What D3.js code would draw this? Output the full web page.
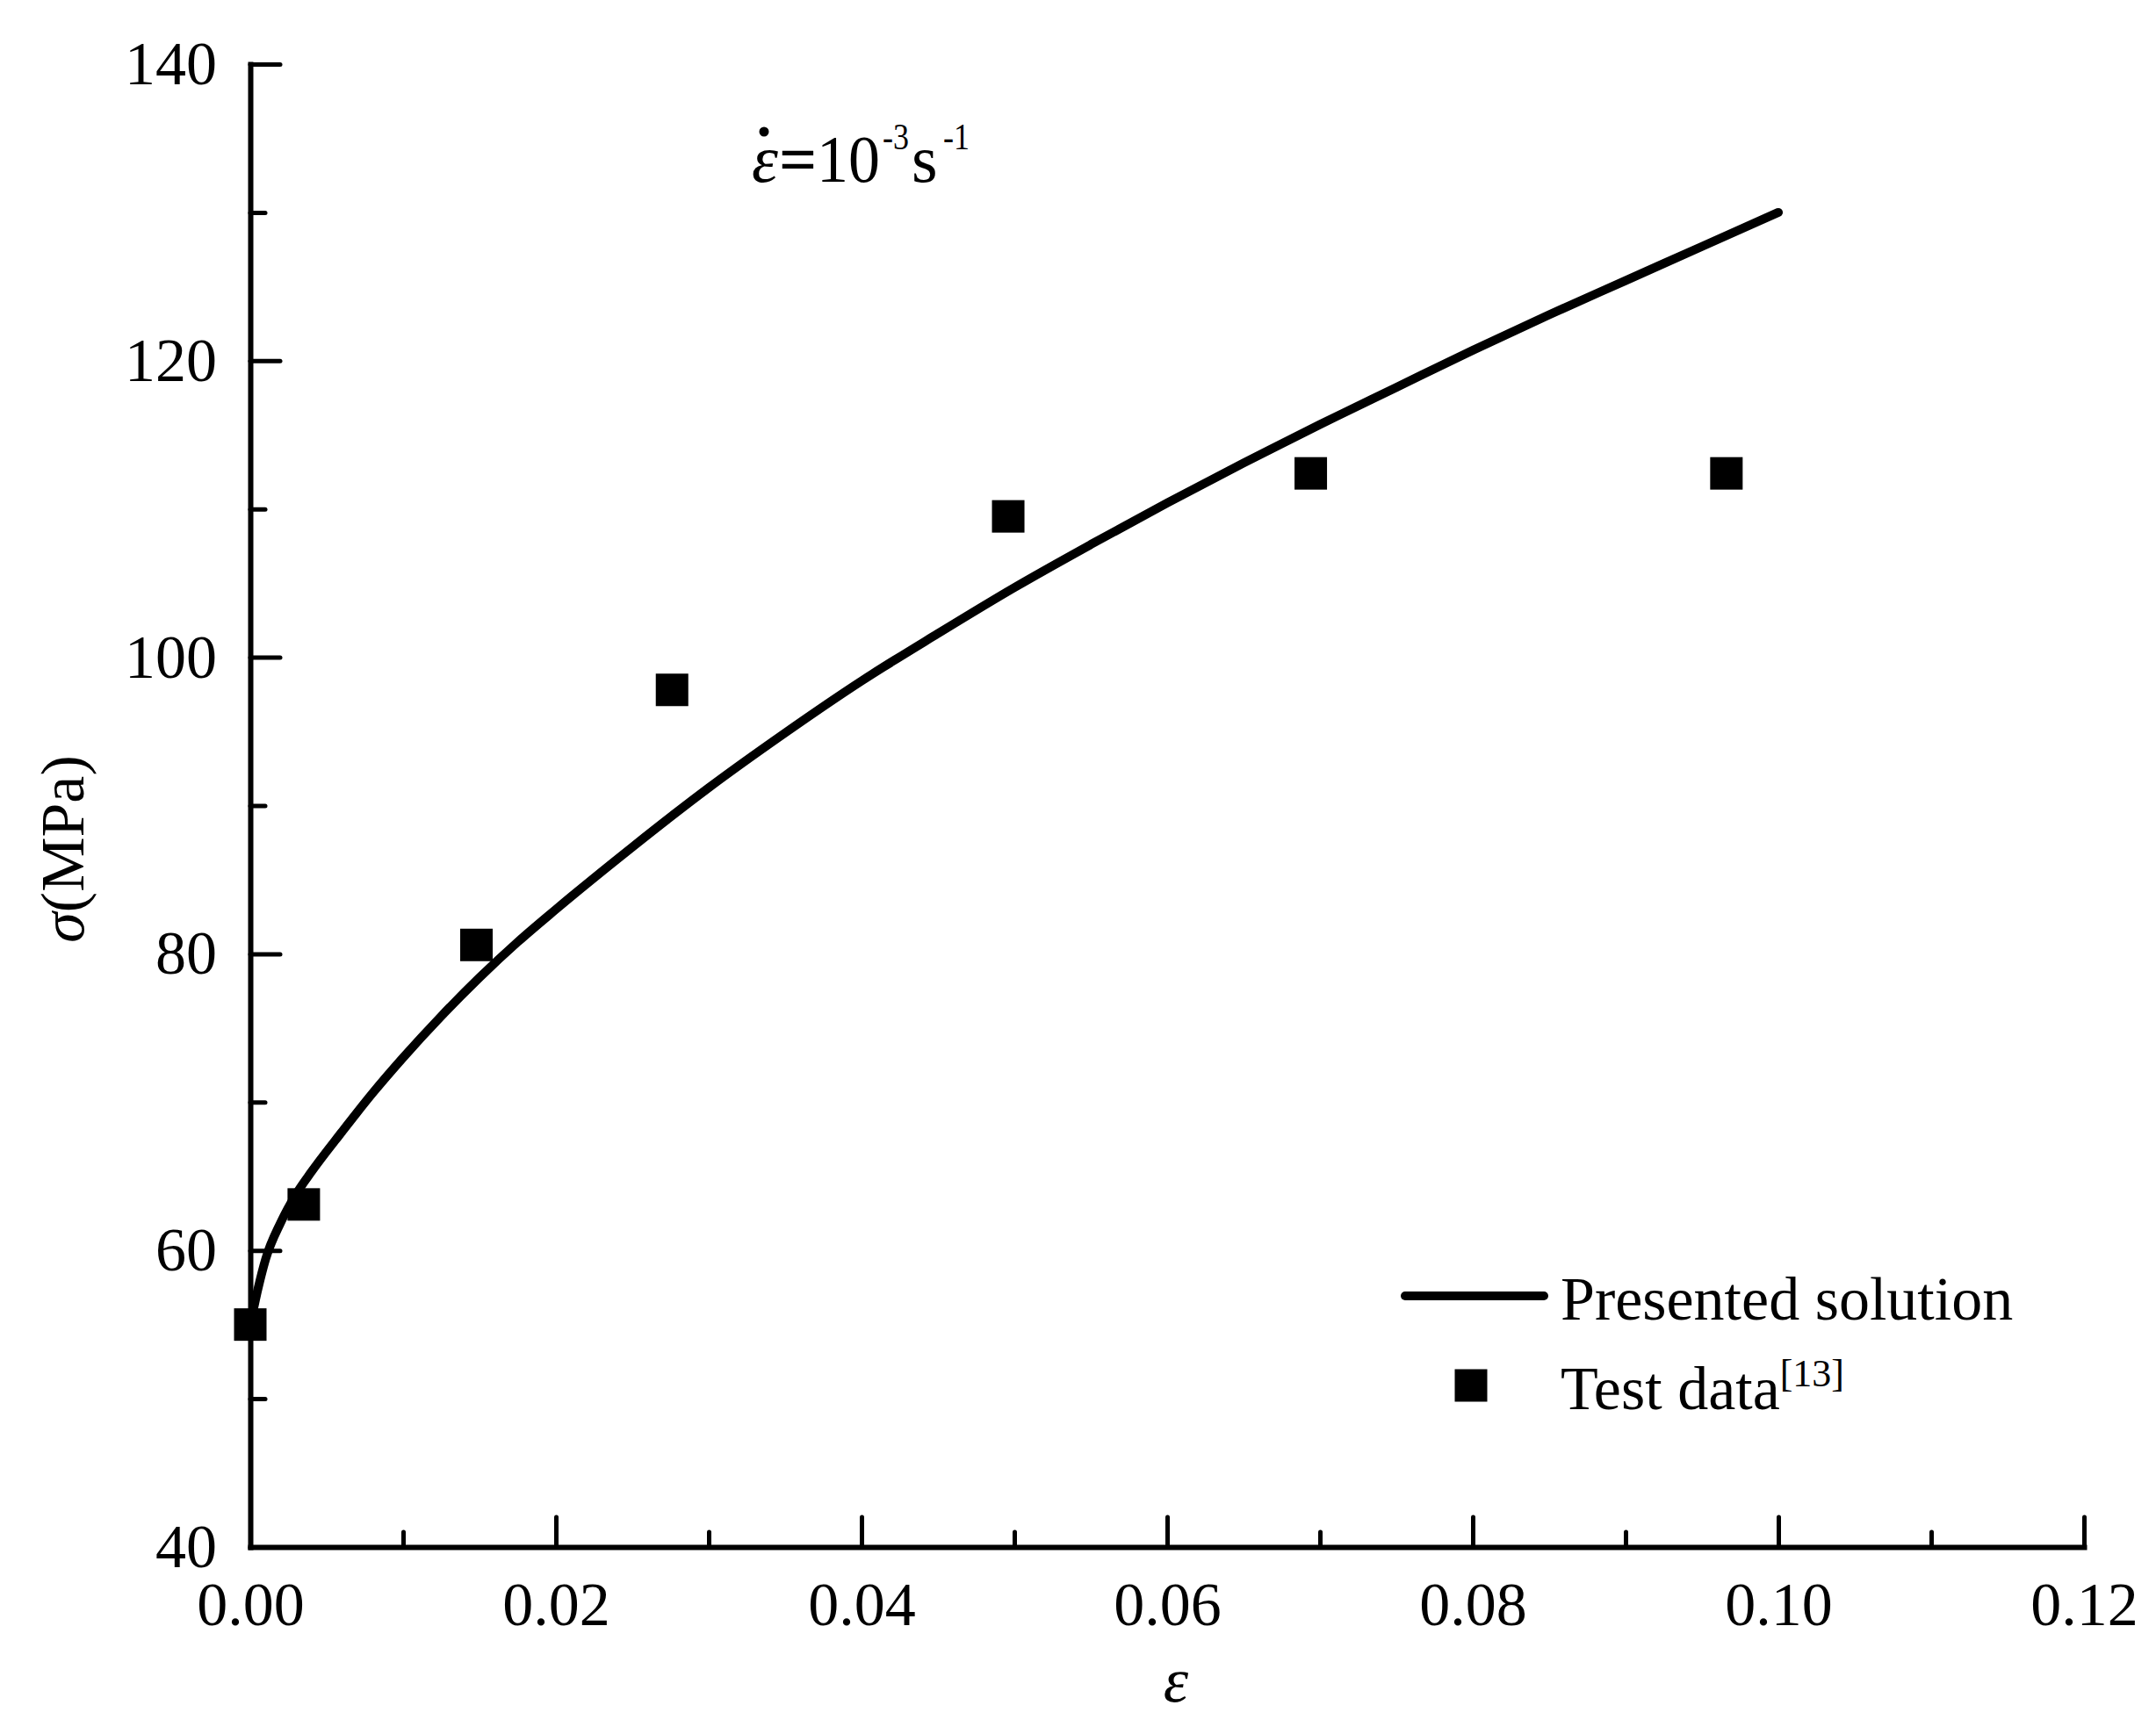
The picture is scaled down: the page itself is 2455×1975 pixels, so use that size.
<!DOCTYPE html>
<html>
<head>
<meta charset="utf-8">
<script src="https://cdn.jsdelivr.net/npm/d3@7"></script>
<style>
  html, body { margin: 0; padding: 0; background: #fff; }
  svg { display: block; }
  text { font-family: "Liberation Serif", "Times New Roman", serif; fill: #000; }
</style>
</head>
<body>
<svg id="chart" width="2455" height="1975"></svg>
<script>
// ---- data ----
const strainCurve = [0, 0.0005, 0.001, 0.002, 0.003, 0.004, 0.006, 0.008, 0.01, 0.0125, 0.015, 0.0175, 0.02, 0.025, 0.03, 0.035, 0.04, 0.045, 0.05, 0.055, 0.06, 0.065, 0.07, 0.075, 0.08, 0.085, 0.09, 0.095, 0.1];
const stressCurve = [55.0, 57.4, 59.4, 61.9, 63.8, 65.3, 68.0, 70.6, 73.0, 75.8, 78.4, 80.8, 83.0, 87.2, 91.2, 94.9, 98.4, 101.6, 104.7, 107.6, 110.4, 113.1, 115.7, 118.2, 120.7, 123.1, 125.4, 127.7, 130.0];
const strainTest = [0.0, 0.0035, 0.0148, 0.0276, 0.0496, 0.0694, 0.0966];
const stressTest = [55.0, 63.1, 80.6, 97.8, 109.5, 112.4, 112.4];
const xMajorTicks = [0, 0.02, 0.04, 0.06, 0.08, 0.10, 0.12];
const xMinorTicks = [0.01, 0.03, 0.05, 0.07, 0.09, 0.11];
const yMajorTicks = [40, 60, 80, 100, 120, 140];
const yMinorTicks = [50, 70, 90, 110, 130];
const legendLabels = ["Presented solution", "Test data"];

// ---- layout ----
const svg = d3.select("#chart");
svg.append("rect").attr("width", 2455).attr("height", 1975).attr("fill", "#fff");

const x = d3.scaleLinear().domain([0, 0.12]).range([285, 2373]);
const y = d3.scaleLinear().domain([40, 140]).range([1762, 73]);

const FS = 70;

function styleAxis(g) {
  g.selectAll("path.domain").attr("stroke", "#000").attr("stroke-width", 6).attr("stroke-linecap", "square");
  g.selectAll(".tick line").attr("stroke", "#000").attr("stroke-width", 5).attr("stroke-linecap", "round");
  g.selectAll(".tick text").attr("font-family", "Liberation Serif").attr("font-size", FS).attr("fill", "#000");
}

const gx = svg.append("g").attr("transform", `translate(0,${y(40)})`)
  .call(d3.axisBottom(x).tickValues(xMajorTicks).tickSizeInner(-34).tickSizeOuter(0)
    .tickPadding(39).tickFormat(d3.format(".2f")));
styleAxis(gx);

const gxm = svg.append("g").attr("transform", `translate(0,${y(40)})`)
  .call(d3.axisBottom(x).tickValues(xMinorTicks).tickSizeInner(-17).tickSizeOuter(0).tickFormat(""));
gxm.select("path.domain").remove();
styleAxis(gxm);

const gy = svg.append("g").attr("transform", `translate(${x(0)},0)`)
  .call(d3.axisLeft(y).tickValues(yMajorTicks).tickSizeInner(-34).tickSizeOuter(0)
    .tickPadding(38).tickFormat(d3.format("d")));
styleAxis(gy);

const gym = svg.append("g").attr("transform", `translate(${x(0)},0)`)
  .call(d3.axisLeft(y).tickValues(yMinorTicks).tickSizeInner(-17).tickSizeOuter(0).tickFormat(""));
gym.select("path.domain").remove();
styleAxis(gym);

// axis titles
svg.append("text")
  .attr("transform", "translate(95,967) rotate(-90)")
  .attr("text-anchor", "middle")
  .attr("font-size", FS)
  .call(t => {
    t.append("tspan").attr("font-style", "italic").text("σ");
    t.append("tspan").text("(MPa)");
  });

svg.append("text")
  .attr("x", 1339).attr("y", 1938)
  .attr("text-anchor", "middle")
  .attr("font-size", 72)
  .attr("font-style", "italic")
  .text("ε");

// curve
const curveData = strainCurve.map((e, i) => ({ e, s: stressCurve[i] }));
const line = d3.line().x(d => x(d.e)).y(d => y(d.s)).curve(d3.curveMonotoneX);
svg.append("path")
  .datum(curveData)
  .attr("d", line)
  .attr("fill", "none")
  .attr("stroke", "#000")
  .attr("stroke-width", 10)
  .attr("stroke-linecap", "round")
  .attr("stroke-linejoin", "round");

// test data markers
const M = 37;
const testData = strainTest.map((e, i) => ({ e, s: stressTest[i] }));
svg.append("g").selectAll("rect")
  .data(testData)
  .join("rect")
  .attr("x", d => x(d.e) - M / 2)
  .attr("y", d => y(d.s) - M / 2)
  .attr("width", M)
  .attr("height", M)
  .attr("fill", "#000");

// annotation: strain rate
const ann = svg.append("g");
ann.append("text").attr("x", 856).attr("y", 207).attr("font-size", 76).attr("font-style", "italic").text("ε");
ann.append("circle").attr("cx", 870).attr("cy", 150).attr("r", 5.5).attr("fill", "#000");
ann.append("text").attr("x", 887).attr("y", 207).attr("font-size", 76).attr("font-weight", "bold").text("=");
ann.append("text").attr("x", 930).attr("y", 207).attr("font-size", 76).attr("textLength", 72).attr("lengthAdjust", "spacingAndGlyphs").text("10");
ann.append("text").attr("x", 1005).attr("y", 170).attr("font-size", 42).attr("textLength", 30).attr("lengthAdjust", "spacingAndGlyphs").text("-3");
ann.append("text").attr("x", 1038).attr("y", 207).attr("font-size", 76).text("s");
ann.append("text").attr("x", 1074).attr("y", 170).attr("font-size", 42).attr("textLength", 30).attr("lengthAdjust", "spacingAndGlyphs").text("-1");

// legend
const lg = svg.append("g");
lg.append("line")
  .attr("x1", 1600).attr("x2", 1758).attr("y1", 1476).attr("y2", 1476)
  .attr("stroke", "#000").attr("stroke-width", 10).attr("stroke-linecap", "round");
lg.append("text").attr("x", 1777).attr("y", 1503).attr("font-size", FS).text(legendLabels[0]);
lg.append("rect").attr("x", 1675 - M / 2).attr("y", 1578 - M / 2).attr("width", M).attr("height", M).attr("fill", "#000");
const t2 = lg.append("text").attr("x", 1777).attr("y", 1605).attr("font-size", FS);
t2.append("tspan").text(legendLabels[1]);
t2.append("tspan").attr("font-size", 44).attr("dy", -26).text("[13]");
</script>
</body>
</html>
